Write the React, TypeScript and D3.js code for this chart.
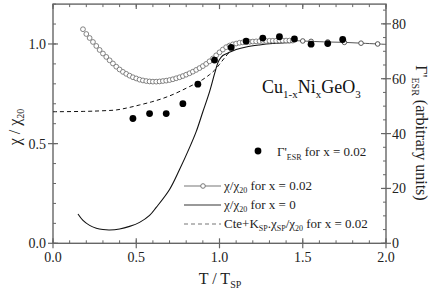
import * as d3 from "d3";

// chi/chi20 for x = 0.02 (dense open circles): [T/Tsp, chi/chi20]
const chiNi: [number, number][] = [
  [0.18, 1.074], [0.2, 1.05], [0.22, 1.03], [0.24, 1.01], [0.26, 0.99], [0.28, 0.97],
  [0.3, 0.952], [0.32, 0.935], [0.34, 0.918], [0.36, 0.902], [0.38, 0.886], [0.4, 0.872],
  [0.42, 0.86], [0.44, 0.85], [0.46, 0.841], [0.48, 0.833], [0.5, 0.827], [0.52, 0.821],
  [0.54, 0.817], [0.56, 0.814], [0.58, 0.812], [0.6, 0.811], [0.62, 0.811], [0.64, 0.812],
  [0.66, 0.814], [0.68, 0.816], [0.7, 0.819], [0.72, 0.823], [0.74, 0.828], [0.76, 0.833],
  [0.78, 0.839], [0.8, 0.846], [0.82, 0.853], [0.84, 0.861], [0.86, 0.87], [0.88, 0.879],
  [0.9, 0.889], [0.92, 0.9], [0.94, 0.913], [0.96, 0.927], [0.98, 0.943], [1.0, 0.958],
  [1.02, 0.972], [1.04, 0.984], [1.06, 0.992], [1.08, 0.998], [1.1, 1.002], [1.12, 1.006],
  [1.14, 1.008], [1.16, 1.01], [1.18, 1.011], [1.2, 1.012], [1.22, 1.013], [1.24, 1.014],
  [1.26, 1.015], [1.28, 1.015], [1.3, 1.016], [1.32, 1.016], [1.34, 1.016], [1.36, 1.017],
  [1.38, 1.017], [1.4, 1.017], [1.42, 1.017], [1.44, 1.017],
];

// sparse open circles above 1.45
const chiNiHigh: [number, number][] = [
  [1.5, 1.015], [1.55, 1.013], [1.65, 1.01], [1.75, 1.008], [1.85, 1.004], [1.95, 1.0],
];
const chiNiTail: [number, number][] = [[1.44, 1.017], ...chiNiHigh, [2.0, 0.998]];

// chi/chi20 for x = 0
const chiPure: [number, number][] = [
  [0.15, 0.147], [0.18, 0.115], [0.22, 0.09], [0.26, 0.076], [0.3, 0.069], [0.34, 0.067],
  [0.4, 0.072], [0.46, 0.085], [0.52, 0.105], [0.58, 0.14], [0.62, 0.18], [0.7, 0.27],
  [0.76, 0.37], [0.82, 0.48], [0.86, 0.56], [0.9, 0.66], [0.94, 0.76], [0.97, 0.85],
  [0.99, 0.905], [1.0, 0.922], [1.02, 0.942], [1.06, 0.958], [1.1, 0.972], [1.16, 0.985],
  [1.24, 0.995], [1.32, 1.002], [1.4, 1.006], [1.44, 1.008],
];

// Cte + Ksp chi_sp / chi20 for x = 0.02
const fitSp: [number, number][] = [
  [0.0, 0.66], [0.2, 0.662], [0.3, 0.665], [0.38, 0.669], [0.45, 0.68], [0.52, 0.694],
  [0.59, 0.709], [0.66, 0.727], [0.73, 0.75], [0.8, 0.778], [0.86, 0.803], [0.9, 0.822],
  [0.94, 0.846], [0.97, 0.868], [1.0, 0.898], [1.03, 0.93], [1.06, 0.96],
];

// Gamma'ESR for x = 0.02 (right axis)
const esrT = [0.48, 0.58, 0.68, 0.78, 0.87, 0.97, 1.07, 1.16, 1.26, 1.36, 1.45, 1.55, 1.65, 1.74];
const esrG = [45.5, 47.3, 47.3, 50.9, 58.0, 66.8, 71.4, 73.7, 74.8, 75.3, 74.5, 72.6, 72.8, 74.3];

const xMajor = [0, 0.5, 1.0, 1.5, 2.0];
const xLabels = ["0.0", "0.5", "1.0", "1.5", "2.0"];
const yMajor = [0, 0.5, 1.0];
const yLabels = ["0.0", "0.5", "1.0"];
const y2Major = [0, 20, 40, 60, 80];

const FONT = '"Liberation Serif", "Times New Roman", Times, serif';
const AX = "#666";

export default function App() {
  const x = d3.scaleLinear().domain([0, 2]).range([53, 386]);
  const y = d3.scaleLinear().domain([0, 1.2]).range([243.3, 4.1]);
  const y2 = d3.scaleLinear().domain([0, 87.2]).range([243.3, 4.1]);

  const line = d3
    .line<[number, number]>()
    .x((d) => x(d[0]))
    .y((d) => y(d[1]))
    .curve(d3.curveCatmullRom);

  const [x0, x1] = x.range();
  const [yb, yt] = y.range();

  const xMinor = d3.range(0, 2.0001, 0.1);
  const yMinor = d3.range(0, 1.2001, 0.1);
  const y2Minor = d3.range(0, 87, 5);

  const txt = { fontFamily: FONT };

  return (
    <svg
      width={436}
      height={292}
      style={{ position: "absolute", left: 0, top: 0, background: "#fff" }}
    >
      <g style={txt}>
        {/* frame */}
        <rect x={x0} y={yt} width={x1 - x0} height={yb - yt} fill="none" stroke={AX} strokeWidth={1.4} />

        {/* x minor ticks bottom & top */}
        {xMinor.map((t, i) => (
          <g key={"xm" + i} stroke={AX} strokeWidth={1}>
            <line x1={x(t)} x2={x(t)} y1={yb} y2={yb - 3} />
            <line x1={x(t)} x2={x(t)} y1={yt} y2={yt + 3} />
          </g>
        ))}
        {xMajor.map((t, i) => (
          <g key={"xM" + i} stroke={AX} strokeWidth={1.2}>
            <line x1={x(t)} x2={x(t)} y1={yb + 5} y2={yb - 5} />
            <line x1={x(t)} x2={x(t)} y1={yt} y2={yt + 5} />
          </g>
        ))}
        {xMajor.map((t, i) => (
          <text key={"xl" + i} x={x(t)} y={262} fontSize={14} textAnchor="middle" fill="#222">
            {xLabels[i]}
          </text>
        ))}

        {/* left axis */}
        {yMinor.map((v, i) => (
          <line key={"ym" + i} x1={x0} x2={x0 + 3} y1={y(v)} y2={y(v)} stroke={AX} />
        ))}
        {yMajor.map((v, i) => (
          <g key={"yM" + i}>
            <line x1={x0 - 5} x2={x0 + 5} y1={y(v)} y2={y(v)} stroke={AX} strokeWidth={1.2} />
            <text x={x0 - 7} y={y(v) + 5} fontSize={14} textAnchor="end" fill="#222">
              {yLabels[i]}
            </text>
          </g>
        ))}

        {/* right axis */}
        {y2Minor.map((v, i) => (
          <line key={"y2m" + i} x1={x1} x2={x1 - 3} y1={y2(v)} y2={y2(v)} stroke={AX} />
        ))}
        {y2Major.map((v, i) => (
          <g key={"y2M" + i}>
            <line x1={x1 - 5} x2={x1 + 5} y1={y2(v)} y2={y2(v)} stroke={AX} strokeWidth={1.2} />
            <text x={x1 + 6} y={y2(v) + 5} fontSize={14} fill="#222">
              {v}
            </text>
          </g>
        ))}

        {/* axis titles */}
        <text x={220} y={284} fontSize={16} textAnchor="middle" fill="#222">
          T / T<tspan fontSize={10} dy={4}>SP</tspan>
        </text>
        <text transform="translate(20,127) rotate(-90)" fontSize={16} textAnchor="middle" fill="#222">
          χ / χ<tspan fontSize={10} dy={4}>20</tspan>
        </text>
        <text transform="translate(416,133) rotate(90)" fontSize={16} textAnchor="middle" fill="#222">
          Γ'<tspan fontSize={10} dy={4}>ESR</tspan>
          <tspan dy={-4}> (arbitrary units)</tspan>
        </text>

        {/* data */}
        <path d={line(fitSp) ?? ""} fill="none" stroke="#111" strokeWidth={1} strokeDasharray="4,3" />
        <path d={line(chiPure) ?? ""} fill="none" stroke="#111" strokeWidth={1.1} />
        <path d={line(chiNiTail) ?? ""} fill="none" stroke="#555" strokeWidth={1} />
        {chiNi.map((d, i) => (
          <circle key={"c" + i} cx={x(d[0])} cy={y(d[1])} r={2.4} fill="#fff" stroke="#666" strokeWidth={0.8} />
        ))}
        {chiNiHigh.map((d, i) => (
          <circle key={"ch" + i} cx={x(d[0])} cy={y(d[1])} r={2.3} fill="#fff" stroke="#444" strokeWidth={0.9} />
        ))}
        {esrT.map((t, i) => (
          <circle key={"e" + i} cx={x(t)} cy={y2(esrG[i])} r={3.4} fill="#000" />
        ))}

        {/* compound */}
        <text x={262} y={93} fontSize={18} fill="#111">
          Cu<tspan fontSize={11} dy={5}>1-x</tspan>
          <tspan dy={-5}>Ni</tspan>
          <tspan fontSize={11} dy={5}>x</tspan>
          <tspan dy={-5}>GeO</tspan>
          <tspan fontSize={11} dy={5}>3</tspan>
        </text>

        {/* legend */}
        <circle cx={258} cy={151} r={3.4} fill="#000" />
        <text x={277} y={156} fontSize={13} fill="#222">
          Γ'<tspan fontSize={8} dy={4}>ESR</tspan>
          <tspan dy={-4}> for x = 0.02</tspan>
        </text>

        <line x1={184} x2={221} y1={186} y2={186} stroke="#777" strokeWidth={1.2} />
        <circle cx={203} cy={186} r={2.3} fill="#fff" stroke="#777" strokeWidth={1} />
        <text x={224} y={190} fontSize={13} fill="#222">
          χ/χ<tspan fontSize={8} dy={3}>20</tspan>
          <tspan dy={-3}> for x = 0.02</tspan>
        </text>

        <line x1={184} x2={221} y1={205} y2={205} stroke="#777" strokeWidth={1.4} />
        <text x={224} y={209} fontSize={13} fill="#222">
          χ/χ<tspan fontSize={8} dy={3}>20</tspan>
          <tspan dy={-3}> for x = 0</tspan>
        </text>

        <line x1={184} x2={221} y1={224} y2={224} stroke="#777" strokeWidth={1.2} strokeDasharray="4,3" />
        <text x={224} y={228} fontSize={13} fill="#222">
          Cte+K<tspan fontSize={8} dy={3}>SP</tspan>
          <tspan dy={-3}>.χ</tspan>
          <tspan fontSize={8} dy={3}>SP</tspan>
          <tspan dy={-3}>/χ</tspan>
          <tspan fontSize={8} dy={3}>20</tspan>
          <tspan dy={-3}> for x = 0.02</tspan>
        </text>
      </g>
    </svg>
  );
}
